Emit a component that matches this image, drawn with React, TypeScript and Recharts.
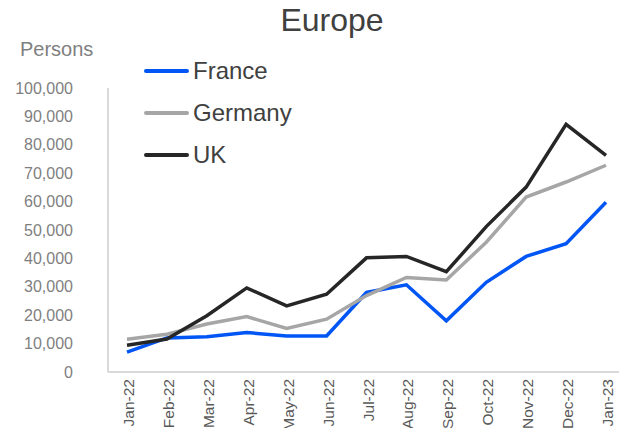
import React from 'react';
import { LineChart, Line, XAxis, YAxis } from 'recharts';

const months = ['Jan-22', 'Feb-22', 'Mar-22', 'Apr-22', 'May-22', 'Jun-22', 'Jul-22', 'Aug-22', 'Sep-22', 'Oct-22', 'Nov-22', 'Dec-22', 'Jan-23'];
const france = [7000, 12000, 12400, 13900, 12700, 12700, 28000, 30700, 18000, 31600, 40700, 45200, 59800];
const germany = [11500, 13300, 16900, 19500, 15300, 18600, 26900, 33300, 32400, 45700, 61600, 66900, 72800];
const uk = [9400, 11600, 19800, 29600, 23300, 27400, 40200, 40700, 35300, 51200, 65100, 87200, 76300];
const yTicks = [0, 10000, 20000, 30000, 40000, 50000, 60000, 70000, 80000, 90000, 100000];

const seriesInfo = [
  { key: 'France', color: '#0055F5' },
  { key: 'Germany', color: '#A6A6A6' },
  { key: 'UK', color: '#262626' },
];

const data = months.map((m, i) => ({ month: m, France: france[i], Germany: germany[i], UK: uk[i] }));

const FONT = '"Liberation Sans", Arial, sans-serif';

const XTick = (props: any) => {
  const { x, y, payload } = props;
  return (
    <text
      transform={`translate(${x + 7},${y - 1}) rotate(-90)`}
      textAnchor="end"
      fontSize={15.5}
      fill="#595959"
      fontFamily={FONT}
    >
      {payload.value}
    </text>
  );
};

export default function App() {
  return (
    <div style={{ position: 'absolute', left: 0, top: 0, width: 619, height: 428, overflow: 'hidden', background: '#fff', fontFamily: FONT }}>
      <LineChart width={619} height={428} data={data} margin={{ top: 88, right: 0, bottom: 0, left: 0 }}>
        <XAxis
          dataKey="month"
          height={56}
          padding={{ left: 19, right: 13 }}
          interval={0}
          tick={<XTick />}
          tickLine={false}
          axisLine={{ stroke: '#D9D9D9', strokeWidth: 2 }}
        />
        <YAxis
          width={108}
          domain={[0, 100000]}
          ticks={yTicks}
          interval={0}
          tickFormatter={(v: number) => v.toLocaleString('en-US')}
          tickLine={false}
          tickSize={0}
          tickMargin={35}
          axisLine={{ stroke: '#D9D9D9', strokeWidth: 2 }}
          tick={{ fontSize: 16, fill: '#7F7F7F', fontFamily: FONT }}
        />
        {seriesInfo.map((s) => (
          <Line
            key={s.key}
            type="linear"
            dataKey={s.key}
            stroke={s.color}
            strokeWidth={3.5}
            dot={false}
            isAnimationActive={false}
          />
        ))}
      </LineChart>
      <div style={{ position: 'absolute', left: 0, width: 664, top: 2, textAlign: 'center', fontSize: 32, color: '#404040' }}>
        Europe
      </div>
      <div style={{ position: 'absolute', left: 20, top: 38, fontSize: 20, color: '#7F7F7F' }}>
        Persons
      </div>
      <div style={{ position: 'absolute', left: 144, top: 50 }}>
        {seriesInfo.map((s) => (
          <div key={s.key} style={{ display: 'flex', alignItems: 'center', height: 42 }}>
            <div style={{ width: 45, height: 4, borderRadius: 2, background: s.color, marginRight: 4 }} />
            <span style={{ fontSize: 24, color: '#404040' }}>{s.key}</span>
          </div>
        ))}
      </div>
    </div>
  );
}
